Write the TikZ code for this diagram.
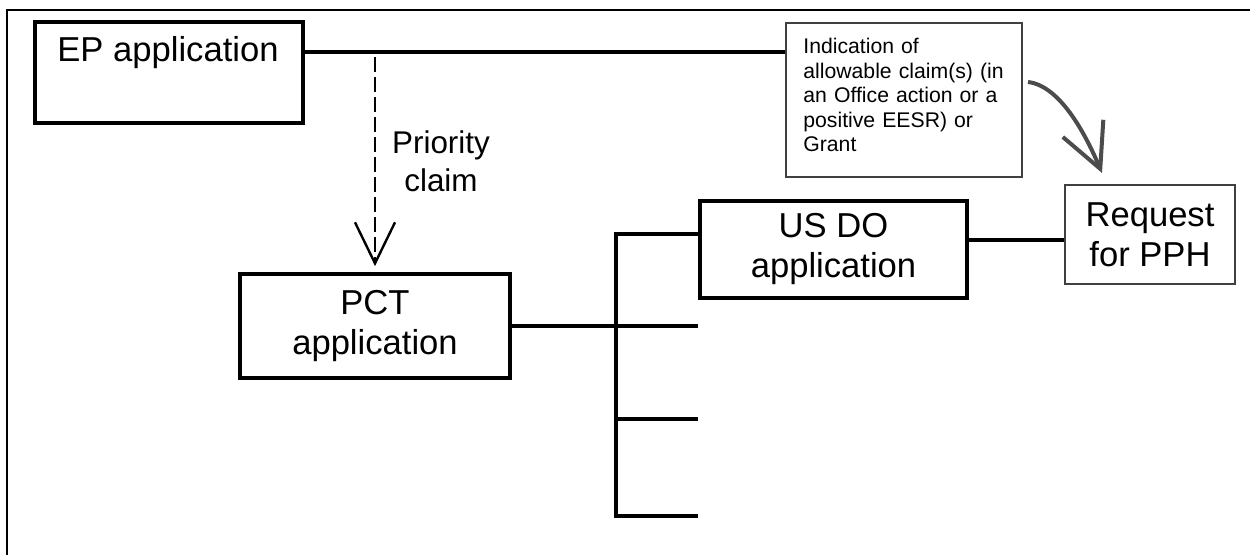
\documentclass[tikz,border=0pt]{standalone}
\usepackage{fontspec}
\setmainfont{Liberation Sans}
\usetikzlibrary{arrows.meta}
\begin{document}
\begin{tikzpicture}[x=0.5pt,y=-0.5pt,
  thickbox/.style={draw=black,line width=1.9pt,rectangle,inner sep=0pt},
  thinbox/.style={draw=black!75,line width=1pt,rectangle,inner sep=0pt},
  bigtxt/.style={font=\fontsize{17.3}{20}\selectfont,align=center},
  smalltxt/.style={font=\fontsize{10.6}{12.25}\selectfont,align=left,inner sep=0pt},
  conn/.style={line width=1.7pt},
  dashconn/.style={line width=1.2pt,dash pattern=on 7.5pt off 2.5pt},
  frameline/.style={line width=1.2pt}]
\useasboundingbox (0,0) rectangle (1250,555);
\fill[white] (0,0) rectangle (1250,555);
% frame
\draw[frameline] (7,555) -- (7,10) -- (1250,10);
% boxes
\node[thickbox,minimum width=134pt,minimum height=50.5pt] (ep) at (169,72.5) {};
\node[bigtxt,inner sep=0pt,anchor=west] (eptxt) at (57,53) {EP application};
\node[thinbox,minimum width=118pt,minimum height=77pt] (ind) at (904,100) {};
\node[smalltxt,anchor=north west,text width=112pt] (indtxt) at (803,38)
  {Indication of\\allowable claim(s) (in\\an Office action or a\\positive EESR) or\\Grant};
\node[thickbox,bigtxt,minimum width=135pt,minimum height=52pt] (pct) at (375,326) {PCT\\application};
\node[thickbox,bigtxt,minimum width=133.5pt,minimum height=48.5pt] (usdo) at (833.5,249.5) {US DO\\application};
\node[thinbox,bigtxt,minimum width=85pt,minimum height=49.5pt] (req) at (1150,234.5) {Request\\for PPH};
\node[font=\fontsize{15.7}{19}\selectfont,align=center] (prio) at (441,161) {Priority\\claim};
% connectors
\coordinate (epout) at (303,52);
\draw[conn] (epout) -- (epout -| ind.west);
\coordinate (dstart) at (375,57);
\draw[dashconn,-{Straight Barb[length=20.5pt,width=20pt]},shorten >=3pt] (dstart) -- (pct.north);
\coordinate (bt) at (616,234);
\coordinate (bm) at (616,419);
\coordinate (bb) at (616,516);
\draw[conn] (bt -| usdo.west) -- (bt) -- (bb) -- (bb -| usdo.west);
\draw[conn] (pct.east) -- (pct.east -| usdo.west);
\draw[conn] (bm) -- (bm -| usdo.west);
\coordinate (rq) at ([yshift=-2.75pt]req.west);
\draw[conn] (rq -| usdo.east) -- (rq);
\coordinate (cs) at (1028,82);
\coordinate (ce) at (1102,173);
\draw[draw=black!70,line width=2pt,-{Straight Barb[length=22pt,width=22pt]}]
  (cs) .. controls (1062,86) and (1088,140) .. (ce);
\end{tikzpicture}
\end{document}
